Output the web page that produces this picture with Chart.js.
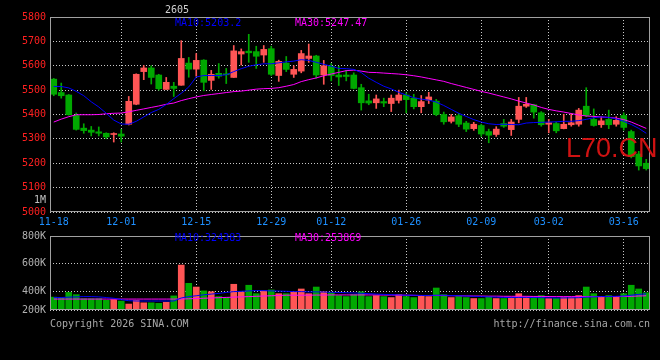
<!DOCTYPE html>
<html><head><meta charset="utf-8">
<script src="https://cdn.jsdelivr.net/npm/chart.js@4.4.1/dist/chart.umd.min.js"></script>
<style>
html,body{margin:0;padding:0;background:#000;width:660px;height:360px;overflow:hidden}
#wrap{position:relative;width:660px;height:360px;background:#000}
#price{position:absolute;left:0;top:0}
#vol{position:absolute;left:0;top:226px}
</style></head><body>
<div id="wrap">
<canvas id="price" width="660" height="226"></canvas>
<canvas id="vol" width="660" height="134"></canvas>
</div>
<script>
// ---------------- data ----------------
const dates = ['11-18','11-19','11-20','11-21','11-24','11-25','11-26','11-27','11-28',
 '12-01','12-02','12-03','12-04','12-05','12-08','12-09','12-10','12-11','12-12',
 '12-15','12-16','12-17','12-18','12-19','12-22','12-23','12-24','12-25','12-26',
 '12-29','12-30','12-31','01-05','01-06','01-07','01-08','01-09',
 '01-12','01-13','01-14','01-15','01-16','01-19','01-20','01-21','01-22','01-23',
 '01-26','01-27','01-28','01-29','01-30','02-02','02-03','02-04','02-05','02-06',
 '02-09','02-10','02-11','02-12','02-13','02-24','02-25','02-26','02-27',
 '03-02','03-03','03-04','03-05','03-06','03-09','03-10','03-11','03-12','03-13',
 '03-16','03-17','03-18','03-19'];
const labeledDates = ['11-18','12-01','12-15','12-29','01-12','01-26','02-09','03-02','03-16'];

const openP = [5545,5490,5480,5396,5344,5336,5329,5323,5318,5320,
 5360,5442,5576,5591,5562,5503,5516,5520,5611,5586,
 5623,5540,5569,5567,5552,5648,5660,5658,5644,5670,
 5560,5611,5565,5578,5630,5640,5562,5598,5562,5562,
 5562,5510,5456,5448,5453,5445,5458,5480,5467,5432,
 5459,5455,5400,5372,5395,5365,5342,5355,5330,5318,
 5363,5338,5380,5434,5440,5407,5360,5363,5342,5358,
 5360,5434,5380,5358,5380,5360,5396,5330,5238,5200];
const highP = [5548,5529,5482,5406,5362,5351,5349,5325,5325,5339,
 5474,5567,5601,5600,5565,5552,5532,5703,5634,5650,
 5625,5581,5609,5589,5683,5669,5729,5680,5683,5680,
 5623,5638,5600,5663,5689,5643,5622,5609,5598,5581,
 5571,5524,5483,5480,5467,5480,5500,5489,5483,5478,
 5491,5462,5410,5400,5405,5372,5368,5360,5340,5350,
 5380,5380,5470,5470,5442,5412,5380,5369,5401,5404,
 5425,5510,5423,5391,5418,5391,5407,5336,5249,5216];
const lowP = [5477,5467,5397,5336,5323,5312,5312,5301,5287,5287,
 5357,5440,5543,5525,5500,5503,5474,5520,5553,5557,
 5497,5503,5549,5527,5552,5603,5614,5589,5614,5560,
 5536,5576,5552,5571,5614,5549,5524,5538,5519,5538,
 5505,5418,5440,5425,5432,5412,5447,5407,5423,5407,
 5445,5395,5360,5365,5350,5330,5335,5310,5284,5310,
 5347,5314,5366,5429,5385,5352,5325,5325,5341,5352,
 5352,5391,5352,5347,5342,5352,5336,5222,5172,5172];
const closeP = [5483,5477,5399,5339,5334,5327,5323,5308,5322,5311,
 5454,5565,5591,5552,5506,5532,5507,5630,5586,5622,
 5532,5565,5557,5563,5661,5658,5653,5639,5667,5565,
 5618,5585,5585,5650,5640,5562,5600,5560,5554,5556,
 5507,5448,5447,5464,5447,5467,5480,5461,5432,5453,
 5472,5400,5370,5390,5360,5340,5360,5320,5315,5340,
 5352,5369,5434,5442,5410,5358,5366,5333,5360,5366,
 5418,5396,5355,5374,5358,5376,5347,5227,5189,5178];
const ma10 = [5515,5515,5509,5495,5477,5452,5431,5405,5377,5361,
 5360,5372,5390,5408,5421,5441,5465,5487,5513,5554,
 5560,5560,5560,5563,5576,5588,5598,5604,5608,5608,
 5612,5616,5619,5625,5622,5614,5606,5598,5589,5588,
 5585,5572,5549,5532,5516,5505,5491,5480,5469,5463,
 5459,5451,5437,5421,5405,5392,5379,5369,5362,5359,
 5360,5359,5358,5365,5367,5368,5369,5370,5372,5372,
 5375,5380,5387,5390,5388,5382,5372,5359,5343,5323];
const ma30 = [5369,5381,5391,5399,5399,5399,5400,5403,5405,5406,
 5411,5417,5423,5429,5435,5442,5447,5457,5465,5472,
 5478,5482,5486,5490,5494,5496,5500,5504,5506,5507,
 5510,5516,5523,5535,5543,5550,5559,5566,5573,5580,
 5582,5578,5573,5572,5570,5568,5566,5563,5559,5554,
 5548,5542,5536,5527,5519,5511,5503,5495,5488,5480,
 5472,5464,5455,5447,5439,5429,5421,5415,5410,5404,
 5398,5394,5392,5390,5388,5385,5379,5369,5356,5343];
const volume = [358,354,392,376,347,347,347,335,340,330,
 308,335,317,317,313,321,367,590,458,431,
 403,397,362,355,451,397,444,383,403,410,
 383,383,397,417,383,431,397,390,369,362,
 376,397,362,369,362,355,376,362,355,369,
 362,424,376,355,362,355,348,348,362,348,
 348,355,383,362,362,369,348,348,355,355,
 369,431,383,362,369,362,383,444,417,390].map(v => v * 1000);
const volMa10 = [355,355,358,360,362,362,360,355,350,340,
 332,330,330,330,330,330,330,352,362,368,
 375,380,385,392,398,400,403,405,405,403,
 402,400,398,398,396,396,395,393,392,390,
 388,386,383,380,378,376,374,372,372,370,
 370,372,372,370,368,366,364,362,360,358,
 356,355,356,356,355,354,353,352,352,353,
 354,358,360,362,363,364,366,372,378,382].map(v => v * 1000);
const volMa30 = [344,344,344,344,344,344,344,344,344,344,
 344,344,344,344,344,344,344,344,346,348,
 350,352,354,356,358,360,362,364,366,368,
 370,372,372,372,372,373,373,374,374,374,
 374,374,374,374,373,373,372,372,371,370,
 370,370,369,368,368,367,366,366,365,365,
 364,364,364,364,363,363,362,362,362,362,
 362,362,362,362,362,362,363,364,366,368].map(v => v * 1000);
const volTickValues = [265000, 400000, 600000, 800000];
const volTickLabels = ['200K', '400K', '600K', '800K'];

const titleText = '2605';
const priceLegend = ['MA10:5203.2', 'MA30:5247.47'];
const volLegend = ['MA10:324383', 'MA30:253869'];
const copyrightText = 'Copyright 2026 SINA.COM';
const siteText = 'http://finance.sina.com.cn';
const watermark = 'L70.CN';

// ---------------- styles ----------------
const RED = '#ff5555', GREEN = '#00a800', BLUE = '#0000ff', MAG = '#ff00ff';
const GRID = '#c8c8c8', FRAME = '#a0a0a0';
const MONO = '"DejaVu Sans Mono", "Liberation Mono", monospace';
const up = openP.map((o, i) => closeP[i] >= o);
const candleColors = up.map(u => u ? RED : GREEN);
const gridColor = ctx => {
  const lbl = dates[ctx.index];
  return (ctx.index > 0 && labeledDates.includes(lbl)) ? GRID : 'rgba(0,0,0,0)';
};

const framePlugin = {
  id: 'frame',
  afterDraw(chart) {
    const {ctx, chartArea: a} = chart;
    ctx.save();
    ctx.strokeStyle = FRAME;
    ctx.lineWidth = 1;
    ctx.strokeRect(Math.round(a.left) + 0.5, Math.round(a.top) + 0.5,
      Math.round(a.right - a.left) - 1, Math.round(a.bottom - a.top) - 1);
    ctx.restore();
  }
};

const priceText = {
  id: 'priceText',
  afterDraw(chart) {
    const ctx = chart.ctx;
    ctx.save();
    ctx.textBaseline = 'middle';
    ctx.font = '10px ' + MONO;
    ctx.fillStyle = '#d0d0d0';
    ctx.textAlign = 'left';
    ctx.fillText(titleText, 165, 10);
    ctx.fillStyle = BLUE;
    ctx.fillText(priceLegend[0], 175, 23);
    ctx.fillStyle = MAG;
    ctx.fillText(priceLegend[1], 295, 23);
    ctx.fillStyle = '#c0c0c0';
    ctx.textAlign = 'right';
    ctx.fillText('1M', 46, 200);
    ctx.font = '27px "Liberation Sans", Arial, sans-serif';
    ctx.fillStyle = 'rgba(225,20,20,0.92)';
    ctx.textAlign = 'left';
    ctx.fillText(watermark, 566, 150);
    ctx.restore();
  }
};

new Chart(document.getElementById('price'), {
  type: 'bar',
  data: {
    labels: dates,
    datasets: [
      {type: 'line', data: ma10, borderColor: BLUE, borderWidth: 1, pointRadius: 0, order: -2},
      {type: 'line', data: ma30, borderColor: MAG, borderWidth: 1, pointRadius: 0, order: -1},
      {data: openP.map((o, i) => [o, closeP[i]]), backgroundColor: candleColors,
       barThickness: 6, grouped: false, order: 0, borderWidth: 0},
      {data: lowP.map((l, i) => [l, highP[i]]), backgroundColor: candleColors,
       barThickness: 1, grouped: false, order: 1, borderWidth: 0}
    ]
  },
  options: {
    responsive: false, animation: false,
    layout: {padding: {left: 0, right: 10, top: 17, bottom: 0}},
    plugins: {legend: {display: false}, tooltip: {enabled: false}},
    scales: {
      x: {
        offset: true,
        grid: {offset: false, color: gridColor, drawTicks: false, lineWidth: 1},
        border: {display: false, dash: [1, 2]},
        ticks: {autoSkip: false, maxRotation: 0, color: '#1e90ff', padding: 4,
          font: {family: MONO, size: 10},
          callback: (v, i) => labeledDates.includes(dates[i]) ? dates[i] : ''},
        afterFit: s => { s.height = 14; }
      },
      y: {
        min: 5000, max: 5800,
        grid: {color: GRID, drawTicks: false},
        border: {display: false, dash: [1, 2]},
        ticks: {stepSize: 100, color: '#ff2020', padding: 4,
          font: {family: MONO, size: 10}, callback: v => String(v)},
        afterFit: s => { s.width = 50; }
      }
    }
  },
  plugins: [framePlugin, priceText]
});

const volText = {
  id: 'volText',
  afterDraw(chart) {
    const ctx = chart.ctx;
    ctx.save();
    ctx.textBaseline = 'middle';
    ctx.font = '10px ' + MONO;
    ctx.textAlign = 'left';
    ctx.fillStyle = BLUE;
    ctx.fillText(volLegend[0], 175, 12);
    ctx.fillStyle = MAG;
    ctx.fillText(volLegend[1], 295, 12);
    ctx.fillStyle = '#a8a8a8';
    ctx.fillText(copyrightText, 50, 98);
    ctx.textAlign = 'right';
    ctx.fillText(siteText, 650, 98);
    ctx.restore();
  }
};

new Chart(document.getElementById('vol'), {
  type: 'bar',
  data: {
    labels: dates,
    datasets: [
      {type: 'line', data: volMa10, borderColor: BLUE, borderWidth: 1, pointRadius: 0, order: -2},
      {type: 'line', data: volMa30, borderColor: MAG, borderWidth: 1, pointRadius: 0, order: -1},
      {data: volume, backgroundColor: candleColors, barThickness: 6, order: 0, borderWidth: 0}
    ]
  },
  options: {
    responsive: false, animation: false,
    layout: {padding: {left: 0, right: 10, top: 6, bottom: 0}},
    plugins: {legend: {display: false}, tooltip: {enabled: false}},
    scales: {
      x: {
        offset: true,
        grid: {offset: false, color: gridColor, drawTicks: false},
        border: {display: false, dash: [1, 2]},
        ticks: {display: false},
        afterFit: s => { s.height = 50; }
      },
      y: {
        min: volTickValues[0], max: volTickValues[volTickValues.length - 1],
        afterBuildTicks: s => { s.ticks = volTickValues.map(v => ({value: v})); },
        grid: {color: GRID, drawTicks: false},
        border: {display: false, dash: [1, 2]},
        ticks: {color: '#b0b0b0', padding: 4, font: {family: MONO, size: 10},
          callback: v => volTickLabels[volTickValues.indexOf(v)]},
        afterFit: s => { s.width = 50; }
      }
    }
  },
  plugins: [framePlugin, volText]
});
</script>
</body></html>
